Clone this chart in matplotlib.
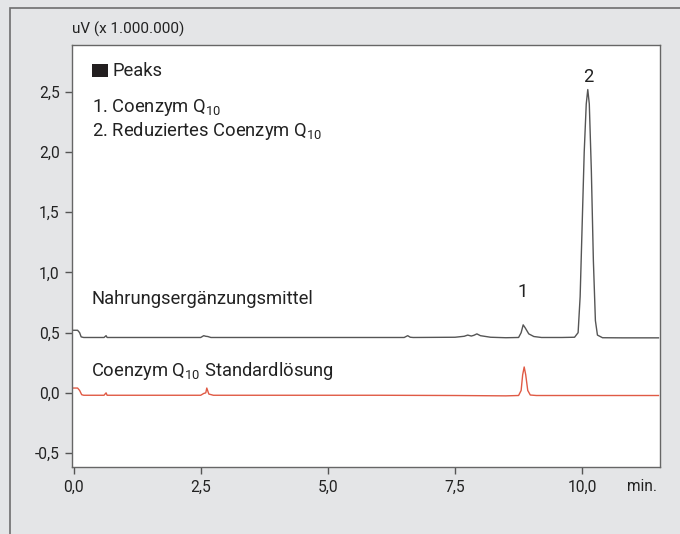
"""
HPLC chromatogram: Coenzym Q10 in Nahrungsergaenzungsmittel vs. Standard
"""

import matplotlib
matplotlib.use('Agg')
from matplotlib import pyplot as plt
from matplotlib.patches import Rectangle

plt.rcParams['font.family'] = ['Roboto', 'DejaVu Sans']
plt.rcParams['mathtext.fontset'] = 'custom'
plt.rcParams['mathtext.rm'] = 'Roboto'
plt.rcParams['mathtext.it'] = 'Roboto'

# sample trace (Nahrungsergaenzungsmittel)
t_sample = [0.0, 0.08, 0.12, 0.15, 0.2, 0.6, 0.64, 0.66, 0.7, 2.5, 2.56, 2.6, 2.64, 2.7,
            4.0, 5.5, 6.5, 6.57, 6.62, 6.68, 7.5, 7.68, 7.75, 7.82, 7.87, 7.93, 8.0, 8.2,
            8.5, 8.75, 8.8, 8.84, 8.88, 8.95, 9.05, 9.2, 9.6, 9.85, 9.92, 9.96, 10.0,
            10.04, 10.08, 10.11, 10.14, 10.18, 10.22, 10.26, 10.3, 10.4, 10.8, 11.5]
y_sample = [0.52, 0.52, 0.50, 0.465, 0.46, 0.46, 0.475, 0.46, 0.46, 0.46, 0.475, 0.47,
            0.468, 0.46, 0.46, 0.46, 0.46, 0.475, 0.462, 0.46, 0.462, 0.47, 0.48, 0.472,
            0.478, 0.49, 0.475, 0.462, 0.458, 0.46, 0.50, 0.565, 0.54, 0.49, 0.468, 0.46,
            0.46, 0.462, 0.50, 0.80, 1.40, 2.00, 2.40, 2.52, 2.40, 1.85, 1.10, 0.60, 0.48,
            0.458, 0.457, 0.457]

# standard trace (Coenzym Q10 Standardloesung)
t_std = [0.0, 0.08, 0.12, 0.16, 0.2, 0.6, 0.64, 0.66, 0.7, 2.5, 2.56, 2.6, 2.62, 2.66,
         2.75, 4.0, 6.0, 7.5, 8.5, 8.75, 8.8, 8.83, 8.86, 8.89, 8.93, 8.98, 9.1, 10.0, 11.5]
y_std = [0.04, 0.04, 0.02, -0.015, -0.02, -0.02, 0.0, -0.02, -0.02, -0.02, -0.005, 0.0,
         0.04, -0.01, -0.02, -0.02, -0.02, -0.022, -0.025, -0.022, 0.02, 0.15, 0.215,
         0.15, 0.02, -0.018, -0.022, -0.022, -0.022]

x_ticks = [0.0, 2.5, 5.0, 7.5, 10.0]
x_labels = ['0,0', '2,5', '5,0', '7,5', '10,0']
y_ticks = [-0.5, 0.0, 0.5, 1.0, 1.5, 2.0, 2.5]
y_labels = ['-0,5', '0,0', '0,5', '1,0', '1,5', '2,0', '2,5']

peak_names = ['1. Coenzym Q$_{10}$', '2. Reduziertes Coenzym Q$_{10}$']
peak_pos = [(8.84, 0.80), (10.11, 2.58)]


if __name__ == '__main__':
    bg = '#e4e5e7'
    txt = '#222222'
    fs = 13.2
    fig = plt.figure(figsize=(6.8, 5.34), dpi=100, facecolor=bg)

    # outer frame
    fig.patches.append(Rectangle((10/680, -0.1), 1.2, 1 - 8/534 + 0.1,
                                 transform=fig.transFigure, fc='none',
                                 ec='#6e6e6e', lw=1.2))

    ax = fig.add_axes([72/680, 1 - 467/534, 588/680, 422/534])
    ax.set_facecolor('white')

    ax.plot(t_sample, y_sample, color='#555555', lw=1.0)
    ax.plot(t_std, y_std, color='#e05a45', lw=1.0)

    ax.set_xlim(-0.03, 11.53)
    ax.set_ylim(-0.616, 2.89)

    ax.set_xticks(x_ticks)
    ax.set_xticklabels(x_labels)
    ax.set_yticks(y_ticks)
    ax.set_yticklabels(y_labels)
    ax.tick_params(direction='out', length=5, width=1, color='#555555',
                   labelsize=11.2, labelcolor=txt, pad=4)
    for s in ax.spines.values():
        s.set_color('#666666')
        s.set_linewidth(1.0)

    ax.text(0.0, 1.028, 'uV (x 1.000.000)', transform=ax.transAxes,
            fontsize=11, color=txt, ha='left', va='baseline')
    ax.text(0.995, -0.057, 'min.', transform=ax.transAxes,
            fontsize=11.2, color=txt, ha='right', va='baseline')

    # legend block
    ax.add_patch(Rectangle((0.034, 0.924), 0.027, 0.031, transform=ax.transAxes,
                           fc='#231f20', ec='none'))
    ax.text(0.069, 0.9265, 'Peaks', transform=ax.transAxes, fontsize=fs,
            color=txt, va='baseline')
    ax.text(0.034, 0.841, peak_names[0], transform=ax.transAxes, fontsize=fs,
            color=txt, va='baseline')
    ax.text(0.034, 0.784, peak_names[1], transform=ax.transAxes, fontsize=fs,
            color=txt, va='baseline')

    ax.text(0.35, 0.735, 'Nahrungsergänzungsmittel', fontsize=fs, color=txt,
            va='baseline')
    ax.text(0.35, 0.14, 'Coenzym Q$_{10}$ Standardlösung', fontsize=fs,
            color=txt, va='baseline')

    for i, (px, py) in enumerate(peak_pos):
        ax.text(px, py, str(i + 1), fontsize=fs, color=txt,
                ha='center', va='baseline')

    plt.savefig('out.png', dpi=100, facecolor=bg)
